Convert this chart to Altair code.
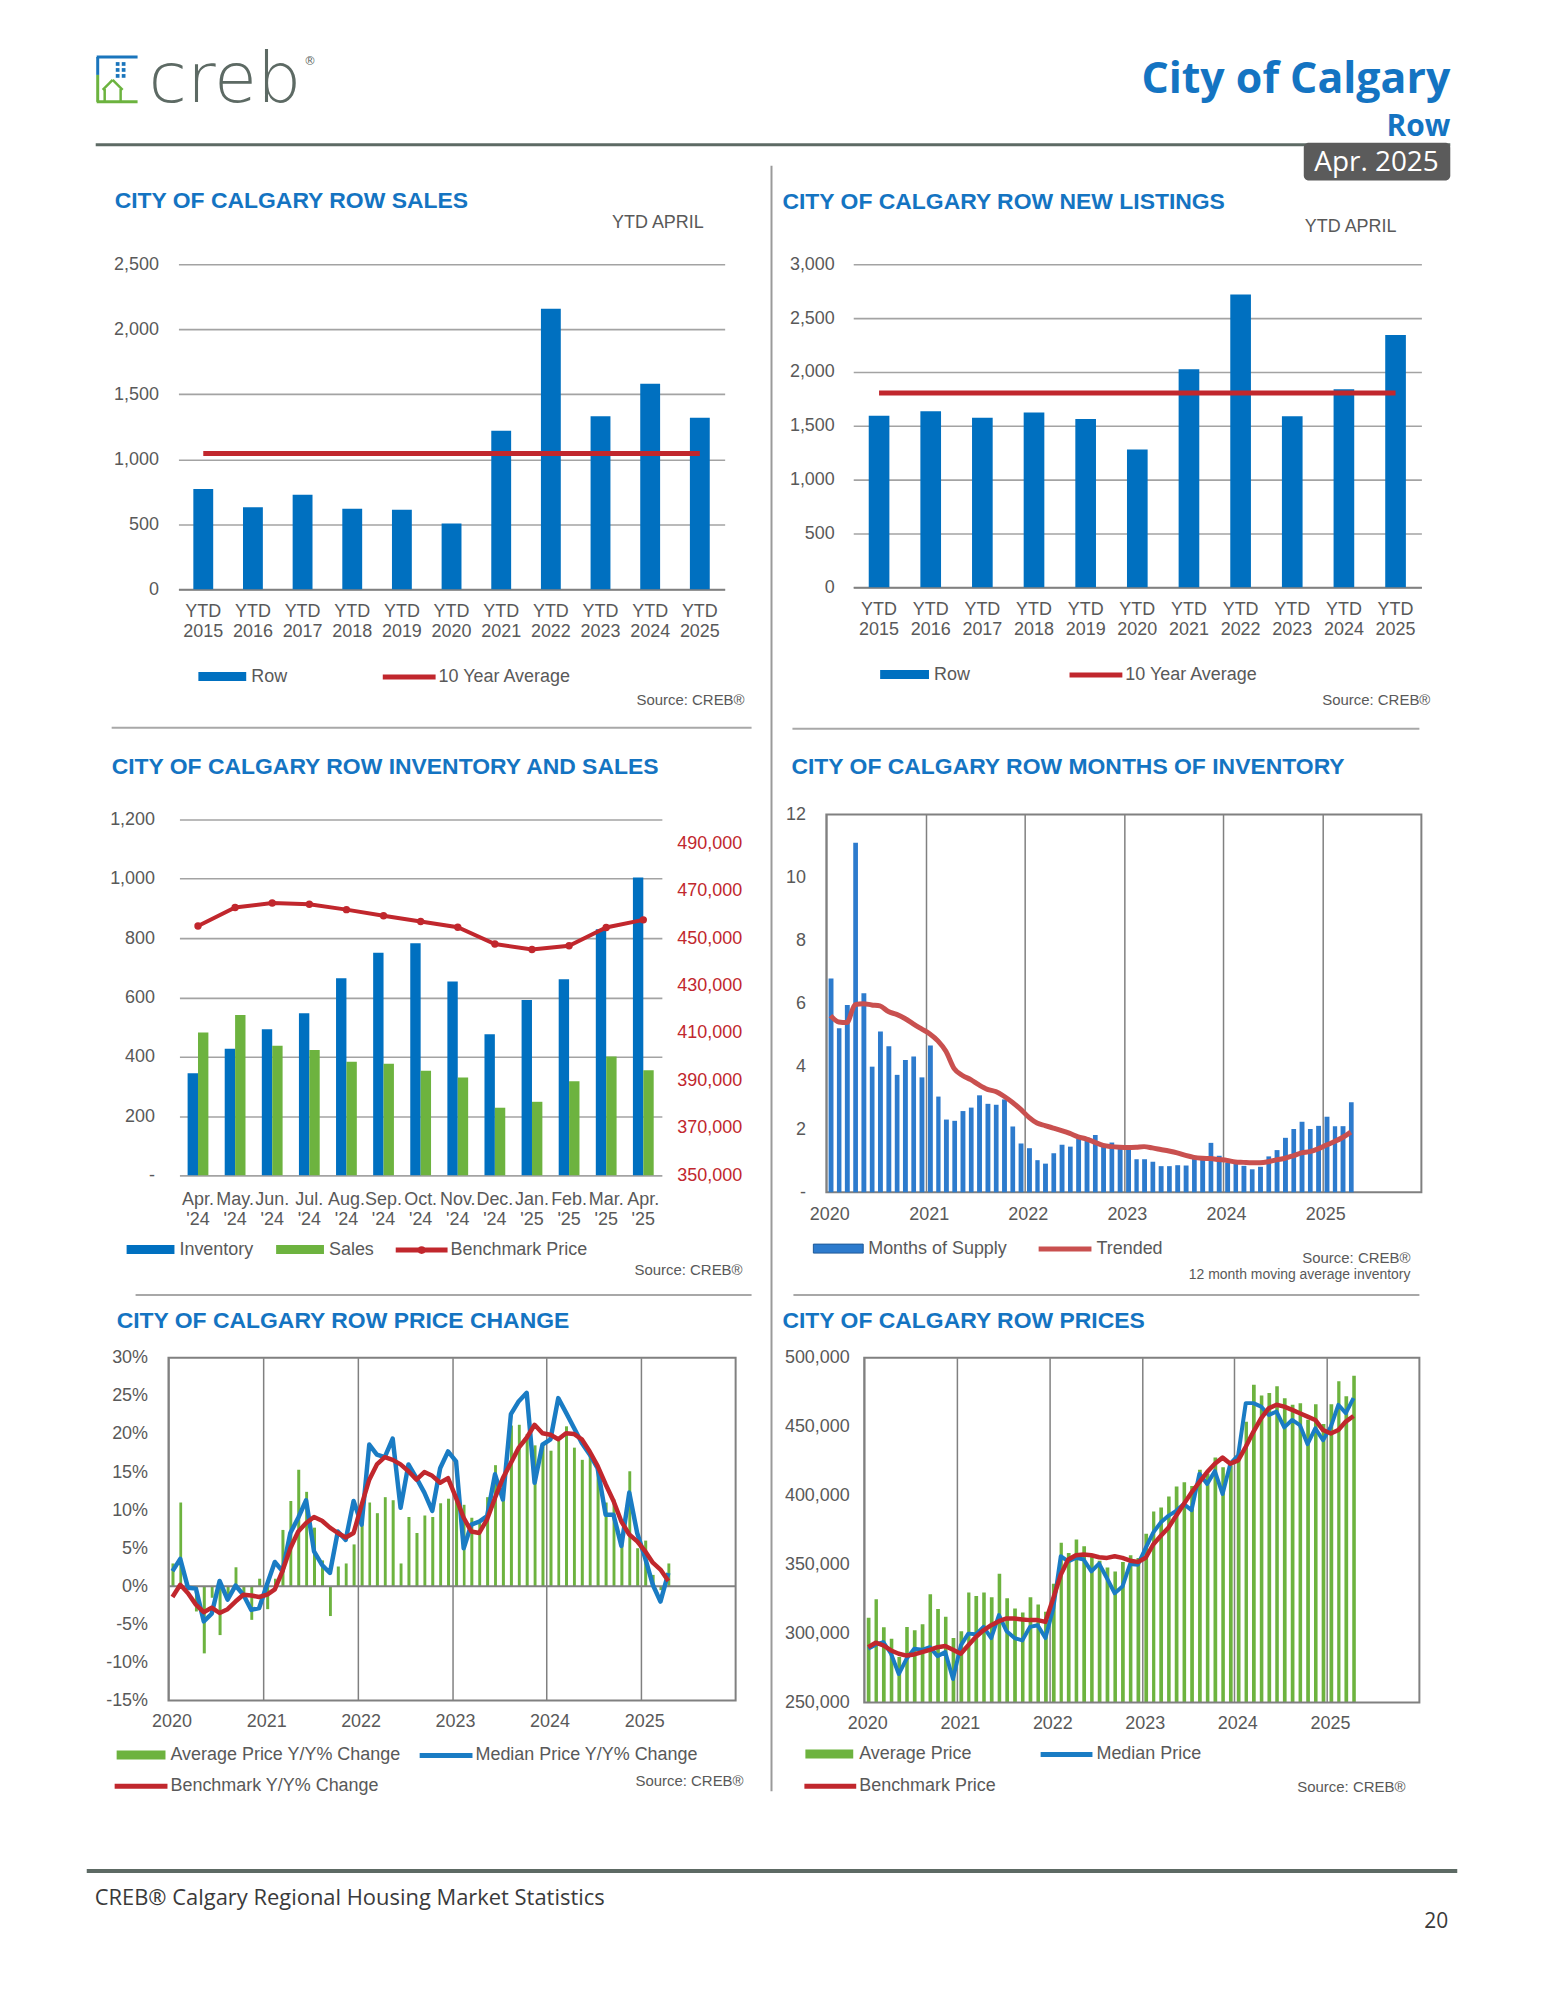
import altair as alt
import pandas as pd

# ------------------------------------------------------------------ data
ytd_years = ["YTD 2015", "YTD 2016", "YTD 2017", "YTD 2018", "YTD 2019", "YTD 2020",
             "YTD 2021", "YTD 2022", "YTD 2023", "YTD 2024", "YTD 2025"]
sales_row = [771, 630, 727, 620, 612, 505, 1219, 2159, 1331, 1581, 1320]
sales_avg10 = 1044
listings_row = [1594, 1635, 1575, 1623, 1563, 1280, 2025, 2720, 1588, 1840, 2343]
listings_avg10 = 1805

inv_months = ["Apr. '24", "May. '24", "Jun. '24", "Jul. '24", "Aug. '24", "Sep. '24", "Oct. '24",
              "Nov. '24", "Dec. '24", "Jan. '25", "Feb. '25", "Mar. '25", "Apr. '25"]
inventory = [344, 427, 493, 547, 665, 751, 783, 654, 476, 591, 661, 830, 1004]
sales_month = [482, 541, 437, 423, 383, 376, 353, 330, 228, 248, 317, 401, 354]
benchmark_month = [455100, 462900, 464800, 464300, 462000, 459400, 457000, 454600,
                   447500, 445200, 446800, 454500, 457700]

months = [f"{y}-{m:02d}-01T00:00:00" for y in range(2020, 2026) for m in range(1, 13)][:64]

months_supply = [6.79, 5.21, 5.95, 11.10, 6.32, 3.99, 5.11, 4.64, 3.73, 4.20, 4.31, 3.65,
                 4.66, 3.04, 2.31, 2.27, 2.58, 2.69, 3.08, 2.81, 2.78, 2.95, 2.09, 1.55,
                 1.40, 1.02, 0.91, 1.24, 1.51, 1.45, 1.71, 1.74, 1.82, 1.52, 1.58, 1.43,
                 1.38, 1.05, 1.05, 0.97, 0.83, 0.83, 0.86, 0.85, 1.06, 1.14, 1.57, 1.16,
                 0.94, 0.90, 0.84, 0.73, 0.81, 1.14, 1.34, 1.73, 2.01, 2.24, 2.01, 2.11,
                 2.40, 2.10, 2.10, 2.86]
months_trend = [5.61, 5.41, 5.39, 5.96, 5.99, 5.95, 5.92, 5.74, 5.65, 5.52, 5.35, 5.19,
                5.03, 4.81, 4.48, 3.93, 3.71, 3.58, 3.41, 3.27, 3.20, 3.05, 2.86, 2.64,
                2.38, 2.20, 2.12, 2.04, 1.96, 1.87, 1.76, 1.69, 1.59, 1.49, 1.45, 1.43,
                1.42, 1.43, 1.45, 1.41, 1.36, 1.31, 1.25, 1.17, 1.11, 1.08, 1.07, 1.04,
                1.01, 0.96, 0.95, 0.94, 0.94, 0.97, 1.03, 1.08, 1.16, 1.25, 1.29, 1.38,
                1.50, 1.61, 1.74, 1.91]

avg_yoy = [3.0, 11.0, -0.5, -3.3, -8.8, -1.5, -6.4, -1.8, 2.5, -1.5, -4.4, 1.0,
           -3.0, 1.0, 7.4, 11.2, 15.3, 12.4, 7.7, 3.4, -3.9, 2.6, 3.0, 5.5,
           8.5, 11.0, 9.6, 11.7, 11.3, 3.0, 9.1, 7.0, 9.3, 9.1, 10.9, 11.5,
           11.4, 10.7, 9.0, 8.3, 11.7, 15.9, 12.0, 21.1, 21.2, 20.0, 18.5, 18.8,
           17.8, 19.1, 21.0, 18.2, 16.6, 17.6, 15.8, 11.0, 11.4, 6.5, 15.1, 5.0,
           6.0, 1.5, -0.5, 3.0]
median_yoy = [2.0, 3.6, -0.2, -0.3, -4.6, -3.6, 0.7, -1.75, 0.1, -1.1, -3.1, -2.85,
              0.3, 3.2, 2.0, 7.0, 9.0, 11.3, 4.6, 2.8, 1.75, 7.2, 6.1, 11.2,
              8.1, 18.6, 17.3, 16.95, 19.4, 10.3, 16.0, 14.2, 12.3, 9.9, 15.5, 17.7,
              16.4, 5.0, 8.1, 8.5, 9.2, 14.7, 11.4, 22.6, 24.3, 25.4, 13.6, 18.6,
              19.3, 24.7, 22.8, 20.8, 18.8, 17.3, 15.5, 9.4, 9.4, 5.3, 12.3, 7.0,
              3.7, 0.2, -2.0, 1.75]
benchmark_yoy = [-1.4, 0.2, -0.9, -2.4, -3.4, -2.8, -3.5, -3.0, -2.0, -1.1, -1.2, -1.4,
                 -1.1, -0.4, 2.0, 5.0, 7.2, 8.3, 9.1, 8.6, 7.7, 7.0, 6.4, 7.0,
                 10.7, 14.0, 16.0, 16.95, 16.6, 16.0, 15.1, 14.0, 15.0, 14.5, 13.6, 14.2,
                 11.6, 9.0, 7.2, 7.0, 8.8, 11.6, 14.2, 16.2, 18.2, 19.5, 21.2, 20.1,
                 19.9, 19.3, 20.1, 20.0, 19.3, 17.7, 15.8, 13.4, 11.2, 8.5, 6.8, 5.9,
                 4.6, 3.1, 2.2, 0.7]

avg_price = [311500, 324900, 304600, 296300, 283000, 304900, 302400, 306800, 328500, 317800, 312200, 296800,
             301700, 329800, 327300, 329800, 326300, 343400, 325600, 318300, 315400, 326300, 321200, 315900,
             336100, 365900, 358500, 368300, 363400, 357300, 352900, 348000, 345100, 352000, 356800, 354900,
             372400, 388500, 391500, 399500, 406600, 409800, 407000, 418800, 416000, 427600, 420700, 422000,
             428000, 453600, 480500, 472700, 474400, 479300, 470700, 465900, 467000, 455000, 466300, 452000,
             466300, 482900, 472000, 487000]
median_price = [289000, 292000, 293900, 285400, 270700, 281700, 289000, 288300, 290200, 283700, 286600, 267100,
                291500, 300000, 299500, 304900, 296800, 313400, 301700, 296800, 295100, 304900, 306100, 296800,
                318300, 356100, 352400, 354900, 353700, 345100, 350700, 340200, 329300, 334100, 350500, 350000,
                362200, 373200, 380500, 385400, 389000, 393900, 389500, 415900, 408500, 417800, 401200, 423200,
                429300, 467100, 467100, 464600, 458500, 461000, 449500, 454900, 451200, 437300, 448800, 440200,
                450000, 465900, 459800, 470700]
benchmark_price = [290200, 293400, 291500, 287800, 285400, 284100, 284900, 286600, 288300, 290200, 291000, 288300,
                   285400, 291500, 297600, 302400, 306100, 309000, 311000, 311000, 310200, 309800, 309800, 308500,
                   325600, 342700, 353700, 356800, 357300, 356800, 355400, 354900, 356100, 354900, 352900, 352000,
                   355000, 364600, 370700, 376800, 385400, 393900, 402400, 409800, 417100, 423200, 427600, 423200,
                   425600, 435400, 446300, 456100, 463400, 465900, 464600, 462200, 459800, 457300, 454900, 447600,
                   445100, 447600, 453700, 457800]

# ------------------------------------------------------------------ styles
FONT = "Liberation Sans"
HFONT = "Open Sans"
GRAY = "#595959"
TBLUE = "#1474c2"
BLUE = "#0070c0"
MBLUE = "#1a7cc4"
SBLUE = "#2d7bcd"
GREEN = "#6db33f"
RED = "#c1272d"
TRED = "#c9504f"
GRID = "#a3a3a3"
BOX = "#808080"
LFS = 18   # axis / legend label size
TFS = 23   # panel title size

one = pd.DataFrame({"d": [0]})
OX, OY = 8, 8


def T(x, y, s, size=LFS, color=GRAY, align="left", weight="normal", font=FONT, baseline="middle"):
    return alt.Chart(one).mark_text(text=s, fontSize=size, color=color, align=align, baseline=baseline,
                                    fontWeight=weight, font=font).encode(x=alt.value(x - OX), y=alt.value(y - OY))


def R(x1, y1, x2, y2, color, w):
    return alt.Chart(one).mark_rule(color=color, strokeWidth=w).encode(
        x=alt.value(x1 - OX), y=alt.value(y1 - OY), x2=alt.value(x2 - OX), y2=alt.value(y2 - OY))


def B(x1, y1, x2, y2, color, r=0, stroke=None):
    kw = dict(color=color, cornerRadius=r)
    if stroke:
        kw.update(stroke=stroke, strokeWidth=1)
    return alt.Chart(one).mark_rect(**kw).encode(
        x=alt.value(x1 - OX), y=alt.value(y1 - OY), x2=alt.value(x2 - OX), y2=alt.value(y2 - OY))


def P(x, y, color, size, shape="circle"):
    return alt.Chart(one).mark_point(filled=True, color=color, size=size, shape=shape, opacity=1).encode(
        x=alt.value(x - OX), y=alt.value(y - OY))


def spacer(w, h):
    return alt.Chart(one).mark_point(opacity=0).encode(x=alt.value(0), y=alt.value(0)).properties(width=w, height=h)


def frame(x1, x2, y1, y2):
    return alt.Chart(one).mark_rect(fillOpacity=0, stroke=BOX, strokeWidth=2).encode(
        x=alt.value(x1), x2=alt.value(x2), y=alt.value(y1), y2=alt.value(y2))


# ------------------------------------------------------------------ canvas (header, titles, legends, footer)
LG = "#5d6a64"
H = -6  # header vertical shift
items = [
    B(8, 8, 1537, 9, "white"),
    # logo
    R(93, 56 + H, 134, 56 + H, "#1a75bc", 3), R(94, 56 + H, 94, 74 + H, "#1a75bc", 3),
    R(94, 74 + H, 94, 101 + H, "#6cb33f", 3), R(93, 101 + H, 134, 101 + H, "#6cb33f", 3),
    R(99, 89 + H, 109, 79 + H, "#6cb33f", 2.5), R(109, 79 + H, 119, 89 + H, "#6cb33f", 2.5),
    R(101, 88 + H, 101, 101 + H, "#6cb33f", 2.5), R(117, 88 + H, 117, 101 + H, "#6cb33f", 2.5),
    P(114, 63 + H, "#1a75bc", 14, "square"), P(120, 63 + H, "#1a75bc", 14, "square"),
    P(114, 69 + H, "#1a75bc", 14, "square"), P(120, 69 + H, "#1a75bc", 14, "square"),
    P(114, 75 + H, "#1a75bc", 14, "square"), P(120, 75 + H, "#1a75bc", 14, "square"),
    T(145, 101 + H, "creb", 70, LG, baseline="alphabetic", font="DejaVu Sans", weight=200),
    T(301, 60 + H, "®", 12, LG, font="DejaVu Sans"),
    # header
    T(1451, 92 + H, "City of Calgary", 43, TBLUE, align="right", weight="bold", font=HFONT, baseline="alphabetic"),
    T(1451, 135 + H, "Row", 30, TBLUE, align="right", weight="bold", font=HFONT, baseline="alphabetic"),
    R(92, 144 + H, 1451, 144 + H, LG, 3),
    B(1304, 142 + H, 1451, 180 + H, "#5b5b5b", r=5),
    T(1377, 162 + H, "Apr. 2025", 28, "white", align="center", font=HFONT),
    # dividers
    R(770, 159, 770, 1790, "#9a9a9a", 2),
    R(108, 723, 750, 723, "#a8a8a8", 2), R(791, 724, 1420, 724, "#a8a8a8", 2),
    R(132, 1292, 750, 1292, "#a8a8a8", 2), R(792, 1292, 1420, 1292, "#a8a8a8", 2),
    # panel 1
    T(111, 195, "CITY OF CALGARY ROW SALES", TFS, TBLUE, weight="bold"),
    T(610, 217, "YTD  APRIL", LFS, GRAY),
    B(195, 667, 243, 676, BLUE), T(248, 672, "Row", LFS),
    R(380, 672, 433, 672, RED, 5), T(436, 672, "10 Year Average", LFS),
    T(743, 695, "Source: CREB®", 15, align="right"),
    # panel 2
    T(781, 196, "CITY OF CALGARY ROW NEW LISTINGS", TFS, TBLUE, weight="bold"),
    T(1305, 221, "YTD  APRIL", LFS, GRAY),
    B(879, 665, 928, 674, BLUE), T(933, 670, "Row", LFS),
    R(1069, 670, 1122, 670, RED, 5), T(1125, 670, "10 Year Average", LFS),
    T(1431, 695, "Source: CREB®", 15, align="right"),
    # panel 3
    T(108, 762, "CITY OF CALGARY ROW INVENTORY AND SALES", TFS, TBLUE, weight="bold"),
    B(123, 1242, 171, 1251, BLUE), T(176, 1247, "Inventory", LFS),
    B(273, 1242, 321, 1251, GREEN), T(326, 1247, "Sales", LFS),
    R(393, 1247, 445, 1247, RED, 5), P(419, 1247, RED, 60), T(448, 1247, "Benchmark Price", LFS),
    T(741, 1267, "Source: CREB®", 15, align="right"),
    # panel 4
    T(790, 762, "CITY OF CALGARY ROW MONTHS OF INVENTORY", TFS, TBLUE, weight="bold"),
    B(812, 1241, 862, 1250, SBLUE, stroke="#1f5a99"), T(867, 1246, "Months of Supply", LFS),
    R(1038, 1246, 1091, 1246, TRED, 5), T(1096, 1246, "Trended", LFS),
    T(1411, 1255, "Source: CREB®", 15, align="right"),
    T(1411, 1272, "12 month moving average inventory", 14, align="right"),
    # panel 5
    T(113, 1318, "CITY OF CALGARY ROW PRICE CHANGE", TFS, TBLUE, weight="bold"),
    B(113, 1749, 162, 1758, GREEN), T(167, 1754, "Average Price Y/Y% Change", LFS),
    R(417, 1754, 470, 1754, MBLUE, 5), T(473, 1754, "Median Price Y/Y% Change", LFS),
    R(111, 1785, 164, 1785, RED, 5), T(167, 1785, "Benchmark Y/Y% Change", LFS),
    T(742, 1780, "Source: CREB®", 15, align="right"),
    # panel 6
    T(781, 1318, "CITY OF CALGARY ROW PRICES", TFS, TBLUE, weight="bold"),
    B(804, 1748, 852, 1757, GREEN), T(858, 1753, "Average Price", LFS),
    R(1040, 1753, 1092, 1753, MBLUE, 5), T(1096, 1753, "Median Price", LFS),
    R(803, 1785, 855, 1785, RED, 5), T(858, 1785, "Benchmark Price", LFS),
    T(1406, 1786, "Source: CREB®", 15, align="right"),
    # footer
    R(83, 1870, 1458, 1870, LG, 4),
    T(91, 1897, "CREB® Calgary Regional Housing Market Statistics", 22, "#3a3a3a", font=HFONT),
    T(1449, 1921, "20", 21, "#3a3a3a", align="right", font=HFONT),
]
canvas = alt.layer(*items).properties(width=1, height=1)


# ------------------------------------------------------------------ panels 1 & 2
def ytd_panel(vals, avg, ymax, plotw, h, off, ypad):
    df = pd.DataFrame({"cat": ytd_years, "v": vals})
    adf = pd.DataFrame({"cat": ytd_years, "v": [avg] * len(ytd_years)})
    xscale = alt.Scale(paddingInner=0.6, paddingOuter=0.3, range=[off, off + plotw])
    x = alt.X("cat:N", sort=ytd_years, title=None, scale=xscale,
              axis=alt.Axis(labelAngle=0, labelExpr="split(datum.value, ' ')", labelLineHeight=20,
                            labelPadding=13, domain=True, domainColor="#808080", domainWidth=2, ticks=False))
    y = alt.Y("v:Q", title=None, scale=alt.Scale(domain=[0, ymax], nice=False),
              axis=alt.Axis(values=list(range(0, ymax + 1, 500)), tickCount=20, format=",.0f", grid=True,
                            gridColor=GRID, gridWidth=1.6, labelPadding=ypad, offset=-off, domain=False,
                            ticks=False, labelOverlap=False))
    bars = alt.Chart(df).mark_bar(color=BLUE).encode(x=x, y=y)
    line = alt.Chart(adf).mark_line(color=RED, strokeWidth=5).encode(
        x=alt.X("cat:N", sort=ytd_years, scale=xscale), y=alt.Y("v:Q"))
    return alt.layer(bars, line).properties(width=off + plotw, height=h)


p1 = ytd_panel(sales_row, sales_avg10, 2500, 548, 326, 10, 20)
p2 = ytd_panel(listings_row, listings_avg10, 3000, 570, 324, 27, 19)

# ------------------------------------------------------------------ panel 3  (plot offset 11 px right, 5 px down)
P3_OFF, P3_W, P3_TOP, P3_H = 11, 484, 5, 357
inv_df = pd.DataFrame({"m": inv_months * 2,
                       "s": ["Inventory"] * len(inv_months) + ["Sales"] * len(inv_months),
                       "v": inventory + sales_month})
bm_df = pd.DataFrame({"m": inv_months, "b": benchmark_month})
x3 = alt.Scale(paddingInner=0.44, paddingOuter=0.22, range=[P3_OFF, P3_OFF + P3_W])
p3_bars = alt.Chart(inv_df).mark_bar().encode(
    x=alt.X("m:N", sort=inv_months, title=None, scale=x3,
            axis=alt.Axis(labelAngle=0, labelExpr="split(datum.value, ' ')", labelLineHeight=20,
                          labelPadding=15, domain=False, ticks=False)),
    xOffset=alt.XOffset("s:N", sort=["Inventory", "Sales"], scale=alt.Scale(paddingInner=0, paddingOuter=0)),
    y=alt.Y("v:Q", title=None,
            scale=alt.Scale(domain=[0, 1200], nice=False, range=[P3_TOP + P3_H, P3_TOP]),
            axis=alt.Axis(values=list(range(0, 1201, 200)), tickCount=20,
                          labelExpr="datum.value == 0 ? '-' : format(datum.value, ',')",
                          grid=True, gridColor=GRID, gridWidth=1.6, labelPadding=25, offset=-P3_OFF,
                          domain=False, ticks=False, labelOverlap=False)),
    color=alt.Color("s:N", scale=alt.Scale(domain=["Inventory", "Sales"], range=[BLUE, GREEN]), legend=None),
)
p3_line = alt.Chart(bm_df).mark_line(color=RED, strokeWidth=4,
                                     point=alt.OverlayMarkDef(filled=True, color=RED, size=55)).encode(
    x=alt.X("m:N", sort=inv_months, scale=x3),
    y=alt.Y("b:Q", title=None,
            scale=alt.Scale(domain=[350000, 500000], nice=False, zero=False, range=[P3_TOP + P3_H, P3_TOP]),
            axis=alt.Axis(orient="right", values=list(range(350000, 490001, 20000)), tickCount=20,
                          format=",.0f", labelColor=RED, grid=False, labelPadding=15, domain=False,
                          ticks=False, labelOverlap=False)),
)
p3 = alt.layer(p3_bars, p3_line).resolve_scale(y="independent").properties(
    width=P3_OFF + P3_W, height=P3_TOP + P3_H)


# ------------------------------------------------------------------ time axis helper
def time_x(off, w, band=None, pad=12):
    kw = {}
    if band is not None:
        kw["bandPosition"] = band
    return alt.X("yearmonth(date):T", title=None,
                 scale=alt.Scale(domain=[alt.DateTime(year=2020, month=1, date=1),
                                         alt.DateTime(year=2026, month=1, date=1)],
                                 range=[off, off + w]),
                 axis=alt.Axis(values=[alt.DateTime(year=y, month=1, date=1) for y in range(2020, 2026)],
                               tickCount=20, format="%Y", grid=True, gridColor=BOX, gridWidth=1.5,
                               labelPadding=pad, labelOffset=3, labelFlush=False, domain=False,
                               ticks=False, labelOverlap=False),
                 **kw)


box = alt.ViewBackground(stroke=BOX, strokeWidth=2)

# ------------------------------------------------------------------ panel 4
mos_df = pd.DataFrame({"date": months, "supply": months_supply, "trend": months_trend})
p4_bars = alt.Chart(mos_df).mark_bar(color=SBLUE, width=alt.RelativeBandSize(0.7)).encode(
    x=time_x(0, 597, pad=13),
    y=alt.Y("supply:Q", title=None, scale=alt.Scale(domain=[0, 12], nice=False),
            axis=alt.Axis(values=list(range(0, 13, 2)), tickCount=20,
                          labelExpr="datum.value == 0 ? '-' : datum.value",
                          grid=False, labelPadding=21, domain=False, ticks=False, labelOverlap=False)),
)
p4_line = alt.Chart(mos_df).mark_line(color=TRED, strokeWidth=5, interpolate="monotone").encode(
    x=time_x(0, 597, band=0.5, pad=13), y=alt.Y("trend:Q"))
p4 = alt.layer(p4_bars, p4_line).properties(width=597, height=379, view=box)

# ------------------------------------------------------------------ panel 5
chg_df = pd.DataFrame({"date": months, "avg": avg_yoy, "med": median_yoy, "bench": benchmark_yoy})
p5_y_axis = alt.Axis(values=list(range(-15, 31, 5)), tickCount=20, labelExpr="datum.value + '%'",
                     grid=False, labelPadding=21, domain=False, ticks=False, labelOverlap=False)
p5_bars = alt.Chart(chg_df).mark_bar(color=GREEN, width=alt.RelativeBandSize(0.5)).encode(
    x=time_x(0, 569),
    y=alt.Y("avg:Q", title=None, scale=alt.Scale(domain=[-15, 30], nice=False), axis=p5_y_axis),
)
p5_zero = alt.Chart(one).mark_rule(color=BOX, strokeWidth=2).encode(y=alt.datum(0))
p5_med = alt.Chart(chg_df).mark_line(color=MBLUE, strokeWidth=4.5, strokeJoin="round").encode(
    x=time_x(0, 569, band=0.5), y=alt.Y("med:Q"))
p5_bench = alt.Chart(chg_df).mark_line(color=RED, strokeWidth=4.5, strokeJoin="round").encode(
    x=time_x(0, 569, band=0.5), y=alt.Y("bench:Q"))
p5 = alt.layer(p5_bars, p5_zero, p5_med, p5_bench).properties(width=569, height=344, view=box)

# ------------------------------------------------------------------ panel 6  (plot offset 38 px right)
P6_OFF, P6_W, P6_H = 38, 557, 346
pr_df = pd.DataFrame({"date": months, "avg": avg_price, "med": median_price, "bench": benchmark_price})
p6_bars = alt.Chart(pr_df).mark_bar(color=GREEN, width=alt.RelativeBandSize(0.6), clip=True).encode(
    x=time_x(P6_OFF, P6_W),
    y=alt.Y("avg:Q", title=None, scale=alt.Scale(domain=[250000, 500000], nice=False, zero=False),
            axis=alt.Axis(values=list(range(250000, 500001, 50000)), tickCount=20, format=",.0f",
                          grid=False, labelPadding=15, offset=-P6_OFF, domain=False, ticks=False,
                          labelOverlap=False)),
)
p6_med = alt.Chart(pr_df).mark_line(color=MBLUE, strokeWidth=4, strokeJoin="round").encode(
    x=time_x(P6_OFF, P6_W, band=0.5), y=alt.Y("med:Q"))
p6_bench = alt.Chart(pr_df).mark_line(color=RED, strokeWidth=4.5, strokeJoin="round").encode(
    x=time_x(P6_OFF, P6_W, band=0.5), y=alt.Y("bench:Q"))
p6 = alt.layer(p6_bars, p6_med, p6_bench, frame(P6_OFF, P6_OFF + P6_W, 0, P6_H)).properties(
    width=P6_OFF + P6_W, height=P6_H)

# ------------------------------------------------------------------ layout: 4-column grid
cells = [
    canvas, spacer(1, 250), spacer(1, 1), spacer(1, 250),
    spacer(157, 1), p1, spacer(91, 1), p2,
    spacer(1, 1), spacer(1, 226), spacer(1, 1), spacer(1, 226),
    spacer(1, 1), p3, spacer(1, 1), p4,
    spacer(1, 1), spacer(1, 166), spacer(1, 1), spacer(1, 166),
    spacer(1, 1), p5, spacer(1, 1), p6,
]

chart = alt.concat(*cells, columns=4, spacing=0, bounds="flush", align="each").properties(
    padding=0, background="white"
).configure_view(stroke="transparent").configure_axis(
    labelFont=FONT, labelFontSize=LFS, labelColor=GRAY
).configure_text(font=FONT)

chart.save("out.html", embed_options={"renderer": "svg", "actions": False})
